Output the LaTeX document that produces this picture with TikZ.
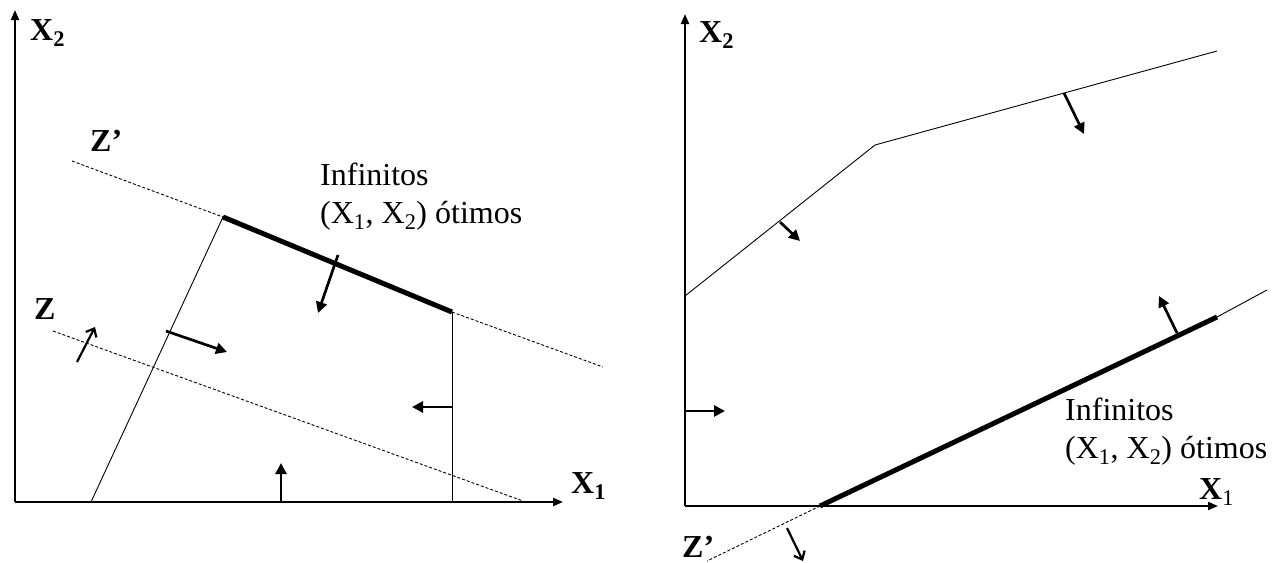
\documentclass[tikz,border=0pt]{standalone}
\usepackage{fontspec}
\setmainfont{Liberation Serif}
\usetikzlibrary{arrows.meta}
\begin{document}
\begin{tikzpicture}[x=1pt,y=-1pt,
  axisline/.style={line width=2pt,-{Triangle[length=10pt,width=8pt]}},
  boundline/.style={line width=0.9pt},
  dashline/.style={line width=0.9pt,dash pattern=on 3pt off 2pt},
  optline/.style={line width=5pt},
  farrow/.style={line width=2.7pt,-{Triangle[length=11pt,width=11pt]}},
  oarrow/.style={line width=2.2pt,-{Straight Barb[length=7pt,width=12pt]}},
  lab/.style={font=\fontsize{32}{36}\selectfont\bfseries,inner sep=0pt,anchor=base west},
  txt/.style={font=\fontsize{32}{38}\selectfont,align=left,inner sep=0pt,anchor=base west}
]
\useasboundingbox (0,0) rectangle (1276,562);

% ---------------- left panel ----------------
\coordinate (LO) at (15,502);
\coordinate (LY) at (15,10);
\coordinate (LX) at (563,502);
\draw[axisline] (LO) -- (LY);
\draw[axisline] (LO) -- (LX);
\node[lab] (lx2) at (30,40) {X\textsubscript{2}};
\node[lab] (lx1) at (571,493) {X\textsubscript{1}};
\node[lab] (lzp) at (90,151) {Z’};
\node[lab] (lz) at (34,319) {Z};

\coordinate (Za) at (72,161);
\coordinate (A) at (223,217);
\coordinate (B) at (452,312);
\coordinate (Zb) at (603,367);
\coordinate (Ab) at (91,502);
\coordinate (Bb) at (452,502);
\coordinate (Z1) at (53,331);
\coordinate (Z2) at (523,501);

\draw[dashline] (Za) -- (A);
\draw[dashline] (B) -- (Zb);
\draw[dashline] (Z1) -- (Z2);
\draw[boundline] (A) -- (Ab);
\draw[boundline] (B) -- (Bb);
\draw[optline] (A) -- (B);

\node[txt] (linf) at (320,223) {Infinitos\\(X\textsubscript{1}, X\textsubscript{2}) ótimos};

\coordinate (a1s) at (338,255); \coordinate (a1e) at (318,313);
\draw[farrow] (a1s) -- (a1e);
\coordinate (a2s) at (166,331); \coordinate (a2e) at (227,352);
\draw[farrow] (a2s) -- (a2e);
\coordinate (a3s) at (281,502); \coordinate (a3e) at (281,463);
\draw[farrow] (a3s) -- (a3e);
\coordinate (a4s) at (452,407); \coordinate (a4e) at (412,407);
\draw[farrow] (a4s) -- (a4e);
\coordinate (a5s) at (77,362); \coordinate (a5e) at (95,327);
\draw[oarrow] (a5s) -- (a5e);

% ---------------- right panel ----------------
\coordinate (RO) at (685,506);
\coordinate (RY) at (685,14);
\coordinate (RX) at (1218,506);
\draw[axisline] (RO) -- (RY);
\draw[axisline] (RO) -- (RX);
\node[lab] (rx2) at (699,42) {X\textsubscript{2}};
\node[lab] (rx1) at (1199,499) {X\textsubscript{\mdseries 1}};
\node[lab] (rzp) at (682,557) {Z’};

\coordinate (P0) at (685,296);
\coordinate (P1) at (875,145);
\coordinate (P2) at (1217,51);
\draw[boundline] (P0) -- (P1) -- (P2);

\coordinate (Q0) at (820,506);
\coordinate (Q1) at (1217,317);
\coordinate (Q2) at (1267,290);
\coordinate (Qz) at (707,561);
\draw[boundline] (Q1) -- (Q2);
\draw[optline] (Q0) -- (Q1);
\draw[dashline] (Q0) -- (Qz);

\node[txt] (rinf) at (1065,458) {Infinitos\\(X\textsubscript{1}, X\textsubscript{2}) ótimos};

\coordinate (b1s) at (780,222); \coordinate (b1e) at (800,241);
\draw[farrow] (b1s) -- (b1e);
\coordinate (b2s) at (1064,93); \coordinate (b2e) at (1084,134);
\draw[farrow] (b2s) -- (b2e);
\coordinate (b3s) at (685,411); \coordinate (b3e) at (725,411);
\draw[farrow] (b3s) -- (b3e);
\coordinate (b4s) at (1177,333); \coordinate (b4e) at (1159,296);
\draw[farrow] (b4s) -- (b4e);
\coordinate (b5s) at (787,528); \coordinate (b5e) at (803,561);
\draw[oarrow] (b5s) -- (b5e);
\end{tikzpicture}
\end{document}
